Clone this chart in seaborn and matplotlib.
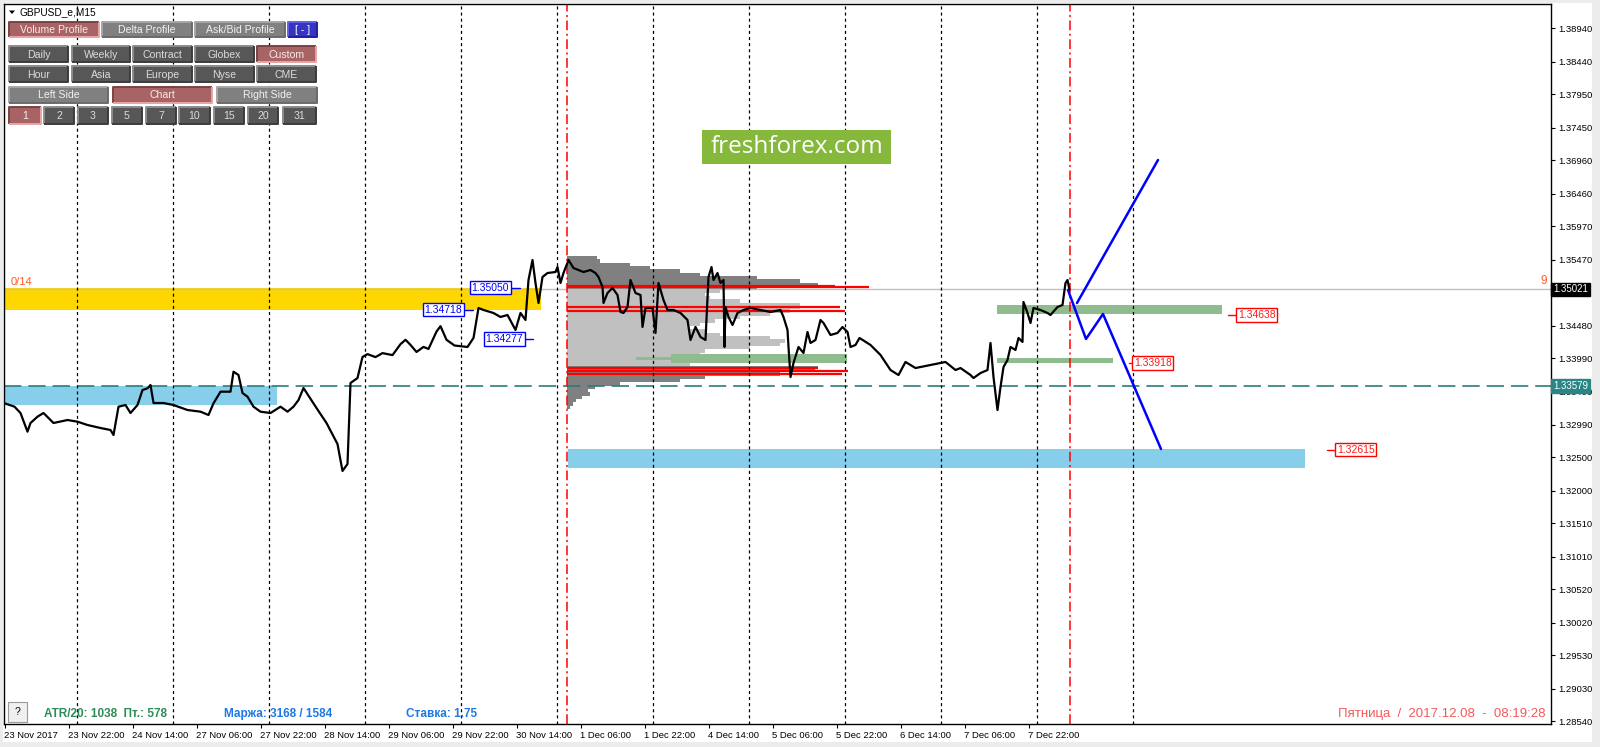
import matplotlib
matplotlib.use("Agg")
import matplotlib.pyplot as plt
import seaborn as sns
import pandas as pd
from matplotlib.patches import Rectangle, Polygon

sns.set_theme(style="white")
plt.rcParams['font.family'] = ['Liberation Sans', 'DejaVu Sans']
plt.rcParams['lines.scale_dashes'] = False

# ---------------- data ----------------
price_bar = [0,10,16,23,26,33,39,49,63,73,83,96,106,109,114,121,126,133,138,143,146,149,159,169,183,196,204,209,216,226,229,234,238,243,249,256,266,276,283,289,294,299,312,322,333,338,343,346,353,358,363,371,378,388,396,401,406,412,419,424,432,436,442,450,463,469,474,479,489,496,503,511,516,521,524,528,531,534,538,543,551,553,556,559,564,569,579,586,591,594,598,599,603,608,613,616,619,623,626,631,636,638,641,648,651,654,659,663,669,676,683,686,691,696,701,704,707,709,713,716,719,720,721,724,728,733,739,746,756,766,776,779,783,784,786,789,794,799,803,806,811,816,819,826,833,838,843,846,851,855,866,876,886,894,901,911,926,941,951,956,966,969,976,983,986,989,993,996,999,1003,1006,1011,1014,1018,1019,1023,1026,1029,1036,1043,1046,1053,1058,1061,1063,1065]
price_close = [1.33313,1.33262,1.33167,1.32887,1.33017,1.33112,1.33167,1.33017,1.33062,1.33037,1.32987,1.32942,1.32912,1.32837,1.33262,1.33287,1.33167,1.33287,1.33512,1.33538,1.33587,1.33317,1.33317,1.33287,1.33212,1.33187,1.33137,1.33313,1.33487,1.33487,1.33787,1.33737,1.33467,1.33412,1.33262,1.33187,1.33167,1.33262,1.33187,1.33262,1.33362,1.33542,1.33242,1.33017,1.32702,1.32297,1.32402,1.33617,1.33692,1.34008,1.34051,1.34006,1.34066,1.34036,1.34200,1.34266,1.34189,1.34083,1.34159,1.34128,1.34389,1.34470,1.34266,1.34180,1.34158,1.34293,1.34743,1.34713,1.34668,1.34608,1.34638,1.34413,1.34668,1.34563,1.35163,1.35463,1.35118,1.34818,1.35208,1.35268,1.35283,1.35358,1.35118,1.35268,1.35463,1.35343,1.35283,1.35313,1.35268,1.35208,1.35058,1.34818,1.34968,1.35043,1.34938,1.34683,1.34668,1.34758,1.35163,1.34968,1.34938,1.34458,1.34743,1.34743,1.34368,1.35118,1.34863,1.34713,1.34713,1.34668,1.34563,1.34263,1.34458,1.34308,1.34263,1.35208,1.35358,1.35163,1.35268,1.35118,1.35163,1.34158,1.34758,1.34608,1.34488,1.34668,1.34713,1.34743,1.34713,1.34683,1.34713,1.34608,1.34413,1.34158,1.33707,1.33918,1.34158,1.34068,1.34383,1.34218,1.34263,1.34563,1.34518,1.34338,1.34368,1.34458,1.34383,1.34158,1.34188,1.34293,1.34188,1.34038,1.33812,1.33737,1.33933,1.33842,1.33887,1.33933,1.33812,1.33842,1.33737,1.33692,1.33767,1.33812,1.34218,1.33707,1.33212,1.33557,1.33857,1.33963,1.34158,1.34113,1.34293,1.34233,1.34833,1.34668,1.34518,1.34743,1.34713,1.34668,1.34638,1.34758,1.34788,1.35118,1.35163,1.35013]

# forecast zigzag (blue)
fc_down_bar = [1063.5, 1081.5, 1098.5, 1156.5]
fc_down_price = [1.35013, 1.34278, 1.34653, 1.32627]
fc_up_bar = [1072.5, 1153.5]
fc_up_price = [1.34818, 1.36964]

# volume profile
profile_top = 1.3550
profile_step = 0.0005
profile_volume = [30,33,63,83,113,133,190,233,251,190,153,138,143,173,233,233,223,203,173,148,133,123,138,153,203,218,213,183,138,133,133,123,123,251,248,213,138,113,53,28,21,23,15,9,6,3]
value_area = (1.33860, 1.35030)
red_levels = [1.35073, 1.35053, 1.34763, 1.34703, 1.33838, 1.33802, 1.33748]
red_volume = [268, 302, 273, 278, 251, 281, 275]
profile_start = 562.5

# zones
yellow_zone = (1.34718, 1.35050)
blue_zone_left = (1.33287, 1.33579)
blue_zone_right = (1.32342, 1.32627)
green_upper = (1.34648, 1.34788)
green_lower = (1.33922, 1.33993)
green_profile = (1.33922, 1.34053)
current_price = 1.35021
pivot_price = 1.33579

y_ticks = [1.38940,1.38440,1.37950,1.37450,1.36960,1.36460,1.35970,1.35470,1.34980,1.34480,1.33990,1.33490,1.32990,1.32500,1.32000,1.31510,1.31010,1.30520,1.30020,1.29530,1.29030,1.28540]
x_tick_labels = ["23 Nov 2017","23 Nov 22:00","24 Nov 14:00","27 Nov 06:00","27 Nov 22:00","28 Nov 14:00","29 Nov 06:00","29 Nov 22:00","30 Nov 14:00","1 Dec 06:00","1 Dec 22:00","4 Dec 14:00","5 Dec 06:00","5 Dec 22:00","6 Dec 14:00","7 Dec 06:00","7 Dec 22:00"]
x_tick_bars = [64*i for i in range(len(x_tick_labels))]
day_bars = [72 + 96*i for i in range(12)]
session_bars = [562.5, 1065.5]

blue_labels = [("1.35050", 1.35050, 504.5, 515.5), ("1.34718", 1.34718, 457.5, 468.5), ("1.34277", 1.34277, 518.5, 528.5)]
red_labels = [("1.34638", 1.34638, 1223.5, 1233.5), ("1.33918", 1.33918, 1124.5, 1129.5), ("1.32615", 1.32615, 1322.5, 1332.5)]

# ---------------- figure ----------------
W, H = 1600, 747
fig = plt.figure(figsize=(16, 7.47), dpi=100)
fig.patch.set_facecolor('white')
ax = fig.add_axes([4 / W, 1 - 724 / H, 1547 / W, 720 / H])
ax.set_xlim(-0.5, 1546.5)
ax.set_ylim(1.28500, 1.39305)
ax.set_facecolor('white')
for s in ax.spines.values():
    s.set_color('black'); s.set_linewidth(1.0)

def zone(x0, x1, yr, color, z=1):
    ax.add_patch(Rectangle((x0, yr[0]), x1 - x0, yr[1] - yr[0], facecolor=color, edgecolor='none', zorder=z))

zone(-0.5, 536, yellow_zone, '#ffd700')
zone(-0.5, 272, blue_zone_left, '#87ceeb')
zone(563, 1300, blue_zone_right, '#87ceeb')

# volume profile
rows = [profile_top - profile_step * i for i in range(len(profile_volume))]
cols = ['#c0c0c0' if value_area[0] <= p <= value_area[1] else '#808080' for p in rows]
ax.barh(rows, profile_volume, left=profile_start, height=profile_step, color=cols, edgecolor='none', zorder=1.2)
for lv, vol in zip(red_levels, red_volume):
    ax.plot([profile_start, profile_start + vol], [lv, lv], color='#ff0000', lw=1.6, zorder=1.4, solid_capstyle='butt')
ax.add_patch(Rectangle((631, 1.33962), 35, 0.0005, facecolor='#8fbc8f', edgecolor='none', zorder=1.5))
zone(666, 842, green_profile, '#8fbc8f', 1.5)
zone(992.5, 1217.5, green_upper, '#8fbc8f', 1.5)
zone(992.5, 1108.5, green_lower, '#8fbc8f', 1.5)

ax.axhline(current_price, color='#c0c0c0', lw=1.0, zorder=1.3)
ax.axhline(pivot_price, color='#2a7d7d', lw=1.2, ls=(0, (12.5, 5)), zorder=2)

for b in day_bars:
    ax.axvline(b, color='black', lw=0.9, ls=(0, (2.2, 2.2)), zorder=2.2)
for b in session_bars:
    ax.axvline(b, color='#ff0000', lw=1.1, ls=(0, (7, 2.5, 1.5, 2.5)), zorder=2.3)

df = pd.DataFrame({'bar': price_bar, 'price': price_close})
sns.lineplot(data=df, x='bar', y='price', estimator=None, sort=False, color='black', linewidth=1.6, ax=ax, zorder=4)
sns.lineplot(x=fc_down_bar, y=fc_down_price, estimator=None, sort=False, color='#0000ff', linewidth=1.8, ax=ax, zorder=5)
sns.lineplot(x=fc_up_bar, y=fc_up_price, estimator=None, sort=False, color='#0000ff', linewidth=1.8, ax=ax, zorder=5)

for txt, p, x0, x1 in blue_labels:
    ax.plot([x0, x1], [p, p], color='#0000ff', lw=1.0, zorder=6)
    ax.text(x0, p, txt, ha='right', va='center', fontsize=7.5, color='#0000ff', zorder=7,
            bbox=dict(boxstyle='square,pad=0.15', fc='white', ec='#0000ff', lw=1.0))
for txt, p, x0, x1 in red_labels:
    ax.plot([x0, x1], [p, p], color='#ff0000', lw=1.0, zorder=6)
    ax.text(x1, p, txt, ha='left', va='center', fontsize=7.5, color='#ff1a1a', zorder=7,
            bbox=dict(boxstyle='square,pad=0.15', fc='white', ec='#ff0000', lw=1.0))

ax.set_xlabel(''); ax.set_ylabel('')
ax.yaxis.tick_right()
ax.set_yticks(y_ticks)
ax.set_yticklabels(['' if abs(v - 1.34980) < 1e-9 else f"{v:.5f}" for v in y_ticks])
ax.set_xticks(x_tick_bars)
ax.set_xticklabels(x_tick_labels)
ax.tick_params(axis='y', direction='out', length=3, width=0.8, pad=2, labelsize=6.8, colors='black', right=True, left=False)
ax.tick_params(axis='x', direction='out', length=3, width=0.8, pad=2, labelsize=6.8, colors='black', bottom=True)
for lab in ax.get_xticklabels():
    lab.set_horizontalalignment('left')

ytr = ax.get_yaxis_transform()
ax.text(1.0015, current_price, f"{current_price:.5f}", transform=ytr, ha='left', va='center', fontsize=7, color='white',
        bbox=dict(boxstyle='square,pad=0.2', fc='black', ec='black'), clip_on=False, zorder=10)
ax.text(1.0015, pivot_price, f"{pivot_price:.5f}", transform=ytr, ha='left', va='center', fontsize=7, color='white',
        bbox=dict(boxstyle='square,pad=0.2', fc='#2a8585', ec='#2a8585'), clip_on=False, zorder=10)
ax.text(0.004, 1.3514, "0/14", transform=ytr, ha='left', va='center', fontsize=8, color='#ff5a1f', zorder=8)
ax.text(0.9935, 1.3515, "9", transform=ytr, ha='left', va='center', fontsize=8.5, color='#ff5a1f', zorder=8)

# ---------------- overlay (UI) ----------------
ov = fig.add_axes([0, 0, 1, 1], zorder=20)
ov.set_xlim(0, W); ov.set_ylim(H, 0); ov.axis('off'); ov.patch.set_visible(False)

ov.add_patch(Rectangle((1592, 0), 8, H, facecolor='#ececec', edgecolor='none'))
ov.add_patch(Rectangle((0, 742), W, 5, facecolor='#ececec', edgecolor='none'))
ov.add_patch(Rectangle((0, 0), W, 3, facecolor='#ececec', edgecolor='none'))
ov.add_patch(Rectangle((0, 0), 3, H, facecolor='#ececec', edgecolor='none'))

ov.add_patch(Polygon([[9, 10.5], [15, 10.5], [12, 14]], closed=True, facecolor='black', edgecolor='none'))
ov.text(20, 12.5, "GBPUSD_e,M15", ha='left', va='center', fontsize=7.3, color='black')

styles = {
    'dark': ('#575757', '#8c8c8c', '#3c3c3c', '#dcdcdc'),
    'gray': ('#808080', '#a6a6a6', '#6a6a6a', '#f2f2f2'),
    'red':  ('#a86464', '#7a4444', '#e8a4a4', '#f8eaea'),
    'blue': ('#3535c2', '#6262e6', '#2020a0', '#ffffff'),
}
def button(x0, x1, y0, y1, label, kind):
    fill, tl, br, tc = styles[kind]
    ov.add_patch(Rectangle((x0, y0), x1 - x0, y1 - y0, facecolor=fill, edgecolor='none'))
    ov.plot([x0, x0, x1], [y1, y0, y0], color=tl, lw=1.4, solid_capstyle='butt')
    ov.plot([x0, x1, x1], [y1, y1, y0], color=br, lw=1.4, solid_capstyle='butt')
    ov.text((x0 + x1) / 2, (y0 + y1) / 2 + 0.5, label, ha='center', va='center', fontsize=7.6, color=tc)

row1 = [("Volume Profile", 9, 99, 'red'), ("Delta Profile", 102, 192, 'gray'), ("Ask/Bid Profile", 195, 285, 'gray'), ("[ - ]", 288, 317, 'blue')]
row2 = [("Daily", 9, 68, 'dark'), ("Weekly", 72, 130, 'dark'), ("Contract", 133, 192, 'dark'), ("Globex", 195, 254, 'dark'), ("Custom", 257, 316, 'red')]
row3 = [("Hour", 9, 68, 'dark'), ("Asia", 72, 130, 'dark'), ("Europe", 133, 192, 'dark'), ("Nyse", 195, 254, 'dark'), ("CME", 257, 316, 'dark')]
row4 = [("Left Side", 9, 108, 'gray'), ("Chart", 113, 212, 'red'), ("Right Side", 217, 317, 'gray')]
row5 = [("1", 9, 41, 'red'), ("2", 44, 74, 'dark'), ("3", 78, 108, 'dark'), ("5", 112, 142, 'dark'), ("7", 146, 176, 'dark'),
        ("10", 179, 210, 'dark'), ("15", 214, 244, 'dark'), ("20", 248, 278, 'dark'), ("31", 283, 316, 'dark')]
for row, (y0, y1) in zip([row1, row2, row3, row4, row5], [(22, 37), (46, 62), (66, 82), (87, 103), (107, 124)]):
    for lab, x0, x1, k in row:
        button(x0, x1, y0, y1, lab, k)

ov.add_patch(Rectangle((702, 130), 189, 34, facecolor='#86b83c', edgecolor='none'))
ov.text(797, 147, "freshforex.com", ha='center', va='center', fontsize=17.5, color='white', family='Open Sans')

ov.add_patch(Rectangle((8, 702), 19, 20, facecolor='#f0f0f0', edgecolor='#9a9a9a', lw=0.8))
ov.text(17.5, 712, "?", ha='center', va='center', fontsize=7.5, color='black')
ov.text(44, 714, "ATR/20: 1038  Пт.: 578", ha='left', va='center', fontsize=8.5, fontweight='bold', color='#2e8b57')
ov.text(224, 714, "Маржа: 3168 / 1584", ha='left', va='center', fontsize=8.5, fontweight='bold', color='#1f78e6')
ov.text(406, 714, "Ставка: 1.75", ha='left', va='center', fontsize=8.5, fontweight='bold', color='#1f78e6')
ov.text(1545, 714, "Пятница  /  2017.12.08  -  08:19:28", ha='right', va='center', fontsize=9.5, color='#f25a5a')

fig.savefig("out.png", dpi=100, facecolor='white')
